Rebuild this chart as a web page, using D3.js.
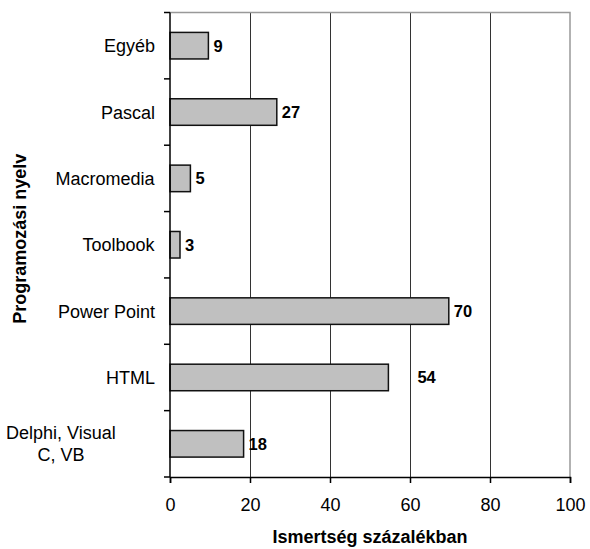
<!DOCTYPE html>
<html>
<head>
<meta charset="utf-8">
<script src="https://cdn.jsdelivr.net/npm/d3@7"></script>
<style>
  body { margin: 0; background: #fff; }
  svg { display: block; font-family: "Liberation Sans", Arial, sans-serif; }
</style>
</head>
<body>
<svg width="590" height="549"></svg>
<script>
// nyelvek (fentről lefelé)
const categories = ["Egyéb", "Pascal", "Macromedia", "Toolbook", "Power Point", "HTML", "Delphi, Visual\nC, VB"];
// oszlopok hossza
const values = [9.6, 26.7, 5.1, 2.5, 69.7, 54.6, 18.4];
// oszlopok felirata
const labels = ["9", "27", "5", "3", "70", "54", "18"];
const xTicks = [0, 20, 40, 60, 80, 100];

const data = categories.map((c, i) => ({ name: c, value: values[i], label: labels[i] }));

const svg = d3.select("svg");
const margin = { top: 12.5, right: 20, bottom: 72, left: 170 };
const width = 590, height = 549;

const x = d3.scaleLinear()
    .domain([0, 100])
    .range([margin.left, width - margin.right]);

const y = d3.scaleBand()
    .domain(categories)
    .range([margin.top, height - margin.bottom])
    .paddingInner(0.6)
    .paddingOuter(0.3);

// band határai (a bal tengely osztásai)
const step = y.step();
const y0 = margin.top, y1 = height - margin.bottom;

// rácsvonalak
svg.append("g")
    .selectAll("line")
    .data(xTicks.filter(t => t > 0 && t < 100))
    .join("line")
    .attr("x1", d => Math.round(x(d)) + 0.5)
    .attr("x2", d => Math.round(x(d)) + 0.5)
    .attr("y1", y0)
    .attr("y2", y1)
    .attr("stroke", "#333")
    .attr("stroke-width", 1);

// keret felső és jobb oldala
svg.append("path")
    .attr("d", `M${x(0)},${y0}H${x(100)}V${y1}`)
    .attr("fill", "none")
    .attr("stroke", "#999")
    .attr("stroke-width", 1.5);

// oszlopok
svg.append("g")
    .selectAll("rect")
    .data(data)
    .join("rect")
    .attr("x", x(0))
    .attr("y", d => y(d.name))
    .attr("width", d => x(d.value) - x(0))
    .attr("height", y.bandwidth())
    .attr("fill", "#c0c0c0")
    .attr("stroke", "#111")
    .attr("stroke-width", 1.5);

// értékek
svg.append("g")
    .selectAll("text")
    .data(data)
    .join("text")
    .attr("x", d => x(d.value) + (d.name === "HTML" ? 29 : 5))
    .attr("y", d => y(d.name) + y.bandwidth() / 2)
    .attr("dy", "0.36em")
    .attr("font-size", 16.5)
    .attr("font-weight", "bold")
    .text(d => d.label);

// x tengely
const xAxis = svg.append("g")
    .attr("transform", `translate(0,${y1})`)
    .call(d3.axisBottom(x).tickValues(xTicks).tickSize(6).tickPadding(15));
xAxis.select(".domain").attr("stroke", "#000").attr("stroke-width", 1.5);
xAxis.selectAll(".tick line").attr("stroke", "#000").attr("stroke-width", 1.5);
xAxis.selectAll("text")
    .attr("font-size", 18)
    .attr("font-family", "Liberation Sans, Arial, sans-serif")
    .attr("fill", "#000");

// y tengely vonala és osztásai
svg.append("line")
    .attr("x1", x(0)).attr("x2", x(0))
    .attr("y1", y0).attr("y2", y1)
    .attr("stroke", "#000")
    .attr("stroke-width", 1.5);
svg.append("g")
    .selectAll("line")
    .data(d3.range(categories.length + 1))
    .join("line")
    .attr("x1", x(0) - 6)
    .attr("x2", x(0))
    .attr("y1", i => y0 + i * step)
    .attr("y2", i => y0 + i * step)
    .attr("stroke", "#000")
    .attr("stroke-width", 1.5);

// kategória feliratok (többsoros is)
svg.append("g")
    .selectAll("text")
    .data(data)
    .join("text")
    .attr("font-size", 18)
    .attr("text-anchor", "middle")
    .each(function (d) {
        const lines = d.name.split("\n");
        const t = d3.select(this);
        const cy = y(d.name) + y.bandwidth() / 2;
        const lh = 22;
        lines.forEach((l, k) => {
            t.append("tspan")
                .attr("y", cy + (k - (lines.length - 1) / 2) * lh)
                .attr("dy", "0.36em")
                .text(l);
        });
        // a leghosszabb sor jobb széle legyen a tengelytől 15px-re
        const w = this.getBBox().width;
        t.selectAll("tspan").attr("x", x(0) - 15 - w / 2);
    });

// tengelycímek
svg.append("text")
    .attr("x", (x(0) + x(100)) / 2)
    .attr("y", 543)
    .attr("text-anchor", "middle")
    .attr("font-size", 18)
    .attr("font-weight", "bold")
    .text("Ismertség százalékban");

svg.append("text")
    .attr("transform", `translate(26,${(y0 + y1) / 2 - 6}) rotate(-90)`)
    .attr("text-anchor", "middle")
    .attr("font-size", 18)
    .attr("font-weight", "bold")
    .text("Programozási nyelv");
</script>
</body>
</html>
